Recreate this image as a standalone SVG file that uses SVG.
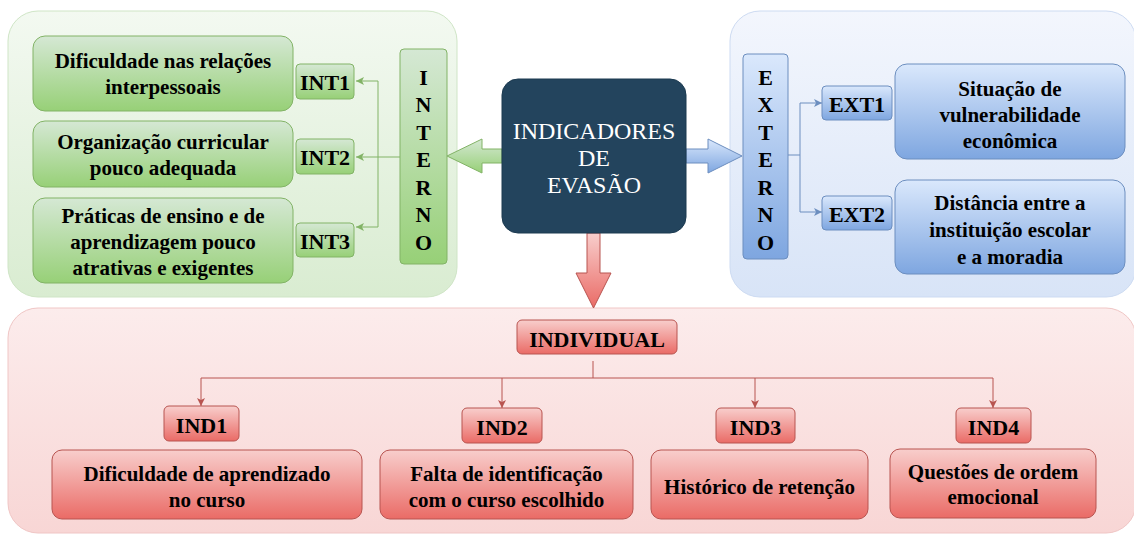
<svg xmlns="http://www.w3.org/2000/svg" width="1134" height="535" viewBox="0 0 1134 535">
<defs>
<linearGradient id="gG" x1="0" y1="0" x2="0" y2="1"><stop offset="0" stop-color="#d5e8d4"/><stop offset="1" stop-color="#97d077"/></linearGradient>
<linearGradient id="gB" x1="0" y1="0" x2="0" y2="1"><stop offset="0" stop-color="#dae8fc"/><stop offset="1" stop-color="#7ea6e0"/></linearGradient>
<linearGradient id="gR" x1="0" y1="0" x2="0" y2="1"><stop offset="0" stop-color="#f8cecc"/><stop offset="1" stop-color="#ea6b66"/></linearGradient>
<linearGradient id="cG" x1="0" y1="0" x2="0" y2="1"><stop offset="0" stop-color="#f3f9f1"/><stop offset="1" stop-color="#d9ecd1"/></linearGradient>
<linearGradient id="cB" x1="0" y1="0" x2="0" y2="1"><stop offset="0" stop-color="#f3f6fd"/><stop offset="1" stop-color="#d8e4f7"/></linearGradient>
<linearGradient id="cR" x1="0" y1="0" x2="0" y2="1"><stop offset="0" stop-color="#fcecec"/><stop offset="1" stop-color="#f8d6d5"/></linearGradient>
<marker id="mG" viewBox="0 0 8 8" refX="8" refY="4" markerWidth="8" markerHeight="8" markerUnits="userSpaceOnUse" orient="auto"><path d="M0,0 L8,4 L0,8 L2,4 z" fill="#82b366"/></marker>
<marker id="mB" viewBox="0 0 8 8" refX="8" refY="4" markerWidth="8" markerHeight="8" markerUnits="userSpaceOnUse" orient="auto"><path d="M0,0 L8,4 L0,8 L2,4 z" fill="#6c8ebf"/></marker>
<marker id="mR" viewBox="0 0 8 8" refX="8" refY="4" markerWidth="8" markerHeight="8" markerUnits="userSpaceOnUse" orient="auto"><path d="M0,0 L8,4 L0,8 L2,4 z" fill="#b85450"/></marker>
</defs>
<style>
text{font-family:"Liberation Serif","Times New Roman",serif;font-weight:bold;fill:#000;text-anchor:middle;dominant-baseline:central}
.t{font-size:21px}
.l{font-size:22px}
.g{fill:url(#gG);stroke:#82b366;stroke-width:1}
.b{fill:url(#gB);stroke:#6c8ebf;stroke-width:1}
.r{fill:url(#gR);stroke:#b85450;stroke-width:1}
.w{fill:#fff;font-weight:normal;font-size:24px}
</style>

<g id="container-interno"><rect x="8" y="11" width="449" height="286" rx="30" fill="url(#cG)" stroke="#cfe5c6"/></g>
<g id="container-externo"><rect x="730" y="11" width="406" height="286" rx="30" fill="url(#cB)" stroke="#cddbf2"/></g>
<g id="container-individual"><rect x="8" y="308" width="1128" height="225" rx="30" fill="url(#cR)" stroke="#f0c6c5"/></g>

<g id="connectors" fill="none" stroke-width="1">
<path d="M400,157 H356" stroke="#82b366" marker-end="url(#mG)"/>
<path d="M378,157 V81 H356" stroke="#82b366" marker-end="url(#mG)"/>
<path d="M378,157 V227 H356" stroke="#82b366" marker-end="url(#mG)"/>
<path d="M788,155 H800 V103 H822" stroke="#6c8ebf" marker-end="url(#mB)"/>
<path d="M800,155 V212 H822" stroke="#6c8ebf" marker-end="url(#mB)"/>
<path d="M593,361 V378 H201 V406" stroke="#b85450" marker-end="url(#mR)"/>
<path d="M593,378 H993 V408" stroke="#b85450" marker-end="url(#mR)"/>
<path d="M502,378 V408" stroke="#b85450" marker-end="url(#mR)"/>
<path d="M755,378 V408" stroke="#b85450" marker-end="url(#mR)"/>
<polygon points="447,156 482,139 482,149 502,149 502,163 482,163 482,173" class="g"/>
<polygon points="686,149 708,149 708,139 742,156 708,173 708,163 686,163" class="b"/>
<polygon points="587,233 600,233 600,273 611,273 593.5,308 576,273 587,273" class="r"/>
</g>

<g id="central"><rect x="502" y="79" width="184" height="154" rx="16" fill="#23445d" stroke="#1c3a50"/>
<text class="w" x="594" y="131">INDICADORES</text><text class="w" x="594" y="158">DE</text><text class="w" x="594" y="185">EVASÃO</text></g>

<g id="interno"><rect x="400" y="49" width="47" height="215" rx="4" class="g"/>
<text class="l" x="423.5" y="77">I</text><text class="l" x="423.5" y="104.5">N</text><text class="l" x="423.5" y="132">T</text><text class="l" x="423.5" y="159.5">E</text><text class="l" x="423.5" y="187">R</text><text class="l" x="423.5" y="214.5">N</text><text class="l" x="423.5" y="242">O</text></g>

<g id="int1"><rect x="296" y="64" width="58" height="35" rx="4" class="g"/><text class="l" x="325" y="82">INT1</text></g>
<g id="int2"><rect x="296" y="139" width="58" height="35" rx="4" class="g"/><text class="l" x="325" y="157">INT2</text></g>
<g id="int3"><rect x="296" y="223" width="58" height="34" rx="4" class="g"/><text class="l" x="325" y="241">INT3</text></g>

<g id="int1-desc"><rect x="33" y="36" width="260" height="75" rx="12" class="g"/><text class="t" x="163" y="61">Dificuldade nas relações</text><text class="t" x="163" y="87">interpessoais</text></g>
<g id="int2-desc"><rect x="33" y="121" width="260" height="66" rx="12" class="g"/><text class="t" x="163" y="142">Organização curricular</text><text class="t" x="163" y="168">pouco adequada</text></g>
<g id="int3-desc"><rect x="33" y="198" width="260" height="85" rx="12" class="g"/><text class="t" x="163" y="216">Práticas de ensino e de</text><text class="t" x="163" y="242">aprendizagem pouco</text><text class="t" x="163" y="268">atrativas e exigentes</text></g>

<g id="externo"><rect x="743" y="54" width="45" height="205" rx="4" class="b"/>
<text class="l" x="765.5" y="77">E</text><text class="l" x="765.5" y="104.5">X</text><text class="l" x="765.5" y="132">T</text><text class="l" x="765.5" y="159.5">E</text><text class="l" x="765.5" y="187">R</text><text class="l" x="765.5" y="214.5">N</text><text class="l" x="765.5" y="242">O</text></g>

<g id="ext1"><rect x="822" y="86" width="70" height="34" rx="4" class="b"/><text class="l" x="857" y="104">EXT1</text></g>
<g id="ext2"><rect x="822" y="196" width="70" height="34" rx="4" class="b"/><text class="l" x="857" y="214">EXT2</text></g>
<g id="ext1-desc"><rect x="895" y="64" width="230" height="95" rx="12" class="b"/><text class="t" x="1010" y="89">Situação de</text><text class="t" x="1010" y="115">vulnerabilidade</text><text class="t" x="1010" y="141">econômica</text></g>
<g id="ext2-desc"><rect x="895" y="180" width="230" height="94" rx="12" class="b"/><text class="t" x="1010" y="203">Distância entre a</text><text class="t" x="1010" y="230">instituição escolar</text><text class="t" x="1010" y="257">e a moradia</text></g>

<g id="individual"><rect x="517" y="320" width="160" height="34" rx="5" class="r"/><text class="l" x="597" y="339">INDIVIDUAL</text></g>

<g id="ind1"><rect x="164" y="406" width="75" height="35" rx="5" class="r"/><text class="l" x="201.5" y="425">IND1</text></g>
<g id="ind2"><rect x="462" y="408" width="80" height="35" rx="5" class="r"/><text class="l" x="502" y="427">IND2</text></g>
<g id="ind3"><rect x="716" y="408" width="79" height="35" rx="5" class="r"/><text class="l" x="755.5" y="427">IND3</text></g>
<g id="ind4"><rect x="956" y="408" width="75" height="35" rx="5" class="r"/><text class="l" x="993.5" y="427">IND4</text></g>

<g id="ind1-desc"><rect x="52" y="450" width="310" height="69" rx="10" class="r"/><text class="t" x="207" y="474">Dificuldade de aprendizado</text><text class="t" x="207" y="500">no curso</text></g>
<g id="ind2-desc"><rect x="380" y="450" width="253" height="69" rx="10" class="r"/><text class="t" x="506.5" y="474">Falta de identificação</text><text class="t" x="506.5" y="500">com o curso escolhido</text></g>
<g id="ind3-desc"><rect x="651" y="450" width="217" height="69" rx="10" class="r"/><text class="t" x="759.5" y="487">Histórico de retenção</text></g>
<g id="ind4-desc"><rect x="890" y="449" width="206" height="69" rx="10" class="r"/><text class="t" x="993" y="472">Questões de ordem</text><text class="t" x="993" y="497">emocional</text></g>
</svg>
